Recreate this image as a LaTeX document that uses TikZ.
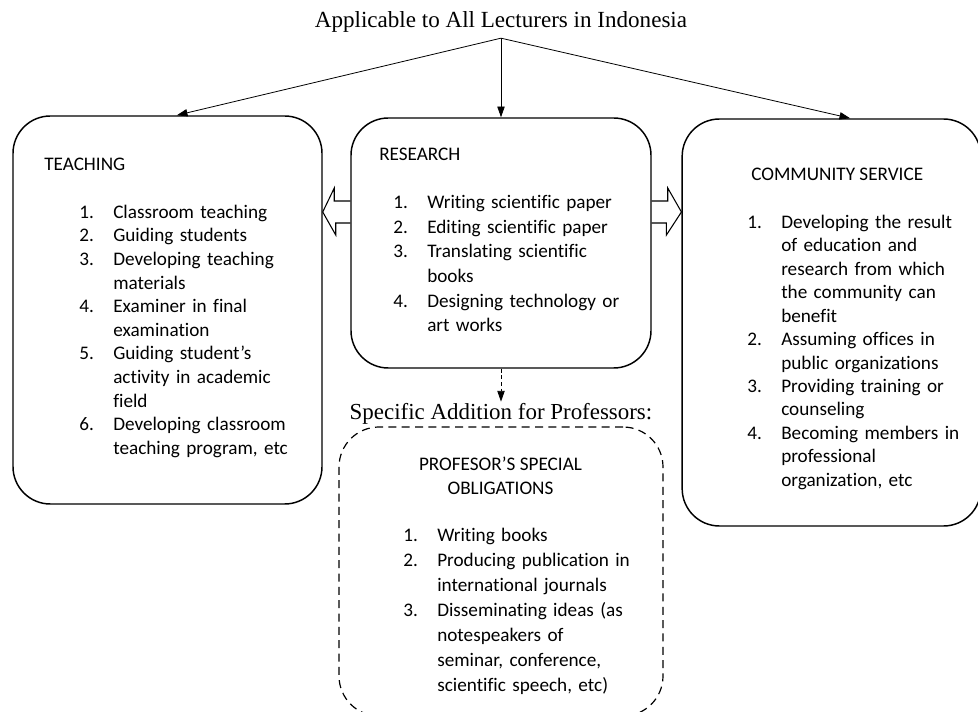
\documentclass[tikz,border=0pt]{standalone}
\usepackage{fontspec}
\setmainfont{Carlito}[Ligatures=CommonOff]
\newfontfamily\ttlfont{Liberation Serif}
\usetikzlibrary{arrows.meta}
\tikzstyle{duty}=[draw=black,line width=1.1pt,rounded corners=28pt,inner sep=0pt]
\tikzstyle{extra}=[duty,dash pattern=on 6pt off 4pt,line width=0.9pt,rounded corners=30pt]
\tikzstyle{head}=[anchor=base west,inner sep=0pt,font=\fontsize{14.4}{17.7}\selectfont]
\tikzstyle{items}=[anchor=north west,inner sep=0pt,text width=200pt,align=left]
\tikzstyle{arr}=[-{Triangle[length=8pt,width=5.5pt]},line width=0.6pt]
\tikzstyle{hollow}=[line width=0.8pt,line join=miter]
\newlength\numw
\setlength\numw{25.5pt}
\newcommand\itm[2]{\par\noindent\hangindent=\numw\hangafter=1\strut\makebox[\numw][l]{#1}#2\par}

\begin{document}
\begin{tikzpicture}[x=0.75pt,y=-0.75pt]
      \useasboundingbox (0,0) rectangle (978,712);
      \node[font=\ttlfont\fontsize{17.3}{20}\selectfont,anchor=base,inner sep=3.75pt] (ttl) at (501,28) {Applicable to All Lecturers in Indonesia};
      % the three duties
      \node[duty,minimum width=231.75pt,minimum height=291pt] (teach) at (167.5,310) {};
      \node[duty,minimum width=225pt,minimum height=187.5pt] (res) at (501,243) {};
      \node[duty,minimum width=224pt,minimum height=305.25pt] (serv) at (831.5,322.5) {};
      \node[extra,minimum width=243pt,minimum height=216.75pt] (prof) at (501,571.5) {};
      \node[head] (teachhd) at (44,171) {TEACHING};
      \node[items,font=\fontsize{14.4}{17.7}\selectfont] (teachlist) at (79,194.5) {
        \itm{1.}{Classroom teaching}
        \itm{2.}{Guiding students}
        \itm{3.}{Developing teaching\newline materials}
        \itm{4.}{Examiner in final\newline examination}
        \itm{5.}{Guiding student’s\newline activity in academic\newline field}
        \itm{6.}{Developing classroom\newline teaching program, etc}};
      \node[head] (reshd) at (379,161) {RESEARCH};
      \node[items,font=\fontsize{14.4}{18.45}\selectfont] (reslist) at (393,183.8) {
        \itm{1.}{Writing scientific paper}
        \itm{2.}{Editing scientific paper}
        \itm{3.}{Translating scientific\newline books}
        \itm{4.}{Designing technology or\newline art works}};
      \node[head] (servhd) at (751,181) {COMMUNITY SERVICE};
      \node[items,font=\fontsize{14.4}{17.6}\selectfont] (servlist) at (747,204.5) {
        \itm{1.}{Developing the result\newline of education and\newline research from which\newline the community can\newline benefit}
        \itm{2.}{Assuming offices in\newline public organizations}
        \itm{3.}{Providing training or\newline counseling}
        \itm{4.}{Becoming members in\newline professional\newline organization, etc}};
      % professors only
      \node[font=\ttlfont\fontsize{17.2}{20}\selectfont,anchor=base,inner sep=1.5pt] (spec) at (501,420) {Specific Addition for Professors:};
      \node[font=\fontsize{14.4}{18}\selectfont,anchor=north,inner sep=0pt,align=center] (profhd) at (500.5,453.2) {\strut PROFESOR’S SPECIAL\\OBLIGATIONS};
      \node[items,font=\fontsize{14.4}{18.75}\selectfont] (proflist) at (403,516.5) {
        \itm{1.}{Writing books}
        \itm{2.}{Producing publication in\newline international journals}
        \itm{3.}{Disseminating ideas (as\newline notespeakers of\newline seminar, conference,\newline scientific speech, etc)}};
      \draw[arr] (ttl.south) -- ([xshift=7pt]teach.north);
      \draw[arr] (ttl.south) -- (res.north);
      \draw[arr] (ttl.south) -- ([xshift=14pt]serv.north);
      \draw[arr,dash pattern=on 3pt off 2pt] (res.south) -- (spec.north);
      \draw[hollow] (res.west |- 0,201) -- ++(-16,0) -- ++(0,-13) -- (teach.east |- 0,212) -- ++(13,23) -- ++(0,-12) -- (res.west |- 0,223);
      \draw[hollow] (res.east |- 0,201) -- ++(16,0) -- ++(0,-13) -- (serv.west |- 0,212) -- ++(-15,23) -- ++(0,-12) -- (res.east |- 0,223);
    \end{tikzpicture}
\end{document}
